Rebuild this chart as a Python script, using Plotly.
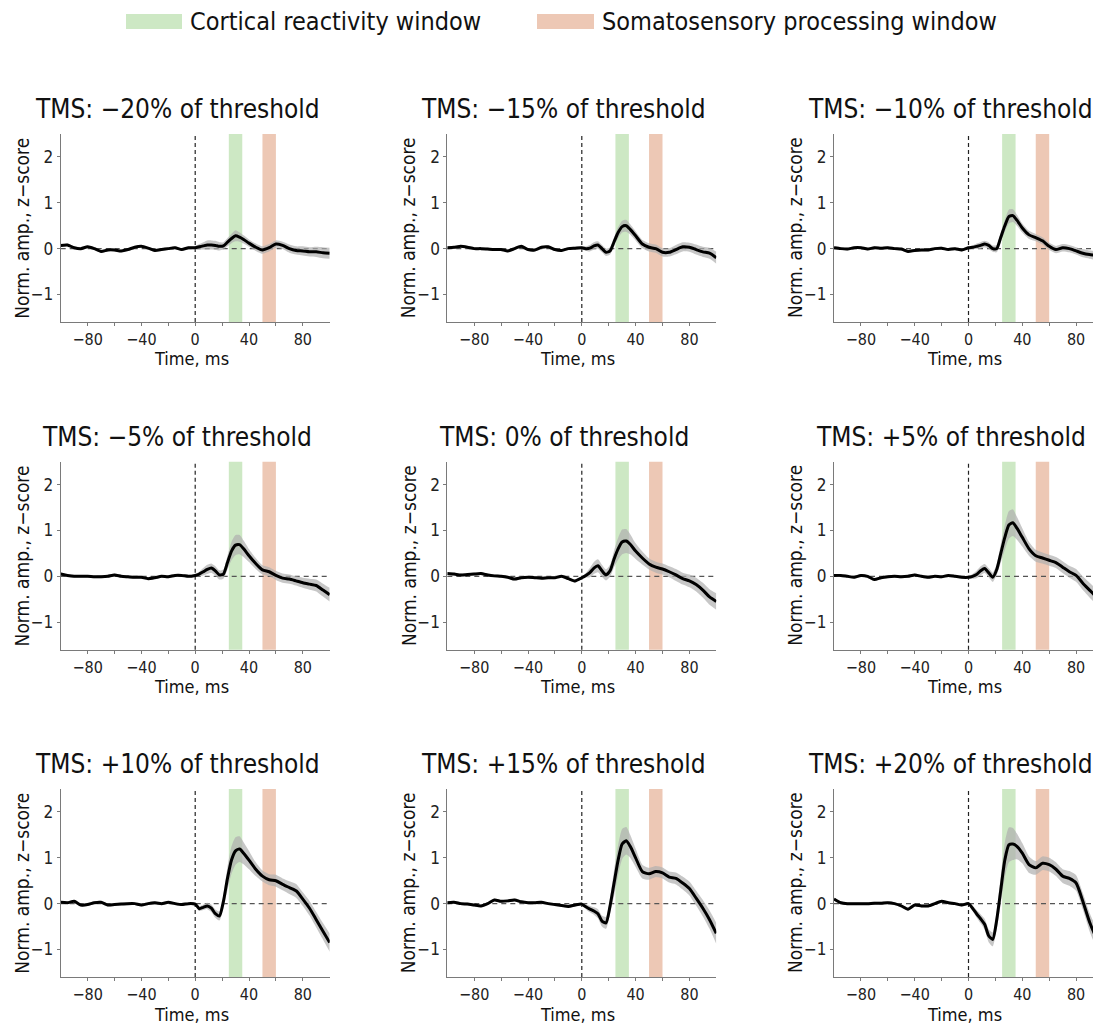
import plotly.graph_objects as go

# ---------------- data ----------------
TIME = [-100, -95, -90, -85, -80, -75, -70, -65, -60, -55, -50, -45, -40, -35, -30, -25, -20, -15, -10, -5,
        0, 3, 6, 9, 12, 15, 18, 21, 24, 27, 30, 33, 36, 40, 45, 50, 55, 60, 65, 70, 75, 80, 85, 90, 95, 100]

PANEL_TITLES = ["TMS: −20% of threshold", "TMS: −15% of threshold", "TMS: −10% of threshold",
                "TMS: −5% of threshold", "TMS: 0% of threshold", "TMS: +5% of threshold",
                "TMS: +10% of threshold", "TMS: +15% of threshold", "TMS: +20% of threshold"]

MEAN_M20 = [0.07, 0.08, 0.02, 0.0, 0.04, 0.0, -0.06, -0.03, -0.03, -0.05, -0.02, 0.03, 0.05, 0.01, -0.04, -0.02, 0.0, 0.02, -0.02, 0.02,
            0.02, 0.04, 0.06, 0.08, 0.08, 0.07, 0.05, 0.06, 0.14, 0.22, 0.28, 0.25, 0.2, 0.12, 0.03, -0.03, 0.02, 0.1, 0.07, 0.0, -0.04, -0.05, -0.07, -0.07, -0.09, -0.1]
MEAN_M15 = [0.02, 0.03, 0.05, 0.03, 0.0, 0.0, -0.01, -0.02, -0.02, -0.05, 0.0, 0.05, -0.02, -0.03, 0.03, 0.04, -0.02, -0.04, 0.0, 0.01,
            0.02, 0.0, 0.01, 0.06, 0.08, 0.0, -0.08, -0.05, 0.15, 0.35, 0.48, 0.5, 0.42, 0.28, 0.1, 0.03, 0.0, -0.08, -0.08, -0.02, 0.04, 0.03, -0.02, -0.07, -0.1, -0.2]
MEAN_M10 = [0.02, 0.0, -0.01, 0.02, 0.02, -0.01, 0.02, 0.01, 0.02, 0.0, -0.01, -0.06, -0.04, -0.03, -0.03, 0.0, 0.01, -0.02, 0.0, -0.03,
            0.02, 0.03, 0.05, 0.07, 0.1, 0.07, 0.0, 0.0, 0.25, 0.5, 0.7, 0.72, 0.62, 0.45, 0.3, 0.24, 0.17, 0.05, -0.02, 0.02, 0.0, -0.05, -0.1, -0.13, -0.15, -0.18]
MEAN_M05 = [0.05, 0.02, 0.0, 0.0, 0.0, -0.01, -0.01, 0.0, 0.03, 0.0, -0.01, -0.02, -0.02, -0.05, -0.03, 0.0, -0.01, 0.02, 0.02, 0.0,
            0.02, 0.05, 0.1, 0.15, 0.18, 0.12, 0.03, 0.05, 0.3, 0.55, 0.68, 0.69, 0.6, 0.45, 0.28, 0.14, 0.1, 0.02, -0.04, -0.06, -0.1, -0.14, -0.17, -0.2, -0.3, -0.4]
MEAN_P00 = [0.06, 0.05, 0.03, 0.04, 0.05, 0.06, 0.03, 0.01, 0.0, -0.02, -0.06, -0.03, -0.02, -0.03, -0.04, -0.03, -0.03, 0.0, -0.05, -0.1,
            -0.03, 0.02, 0.08, 0.18, 0.23, 0.12, 0.03, 0.12, 0.38, 0.6, 0.75, 0.77, 0.7, 0.55, 0.4, 0.27, 0.2, 0.16, 0.1, 0.03, -0.05, -0.1, -0.18, -0.3, -0.45, -0.55]
MEAN_P05 = [0.02, 0.02, 0.0, -0.02, 0.02, 0.0, -0.07, -0.03, -0.01, 0.0, -0.01, 0.0, 0.03, 0.0, -0.02, 0.0, -0.01, 0.02, 0.0, -0.02,
            -0.02, 0.0, 0.04, 0.12, 0.17, 0.08, -0.02, 0.15, 0.5, 0.85, 1.12, 1.17, 1.05, 0.85, 0.6, 0.45, 0.4, 0.35, 0.3, 0.2, 0.1, 0.02, -0.15, -0.3, -0.45, -0.65]
MEAN_P10 = [0.03, 0.02, 0.05, -0.03, -0.02, 0.02, 0.03, -0.03, -0.02, -0.01, 0.0, 0.0, -0.03, 0.0, 0.02, 0.0, 0.03, 0.0, -0.02, 0.0,
            -0.01, -0.11, -0.08, -0.05, -0.1, -0.22, -0.27, 0.05, 0.55, 0.95, 1.15, 1.19, 1.1, 0.95, 0.75, 0.6, 0.52, 0.5, 0.42, 0.35, 0.28, 0.1, -0.1, -0.35, -0.6, -0.85]
MEAN_P15 = [0.02, 0.03, 0.0, -0.01, -0.03, -0.05, 0.0, 0.08, 0.05, 0.06, 0.08, 0.04, 0.02, 0.02, 0.03, 0.0, -0.02, -0.04, -0.06, -0.03,
            -0.01, -0.07, -0.12, -0.16, -0.22, -0.38, -0.42, -0.05, 0.45, 0.95, 1.3, 1.37, 1.25, 1.0, 0.7, 0.65, 0.7, 0.67, 0.58, 0.55, 0.45, 0.33, 0.12, -0.1, -0.35, -0.65]
MEAN_P20 = [0.1, 0.02, 0.0, 0.0, 0.0, 0.0, 0.01, 0.01, 0.02, 0.0, -0.05, -0.12, -0.03, -0.05, -0.05, 0.0, 0.05, 0.02, 0.0, -0.03,
            0.0, -0.1, -0.22, -0.33, -0.45, -0.7, -0.78, -0.35, 0.3, 0.95, 1.28, 1.3, 1.25, 1.1, 0.85, 0.78, 0.88, 0.85, 0.75, 0.6, 0.55, 0.45, 0.05, -0.4, -0.75, -1.05]

SEM_M20 = [0.03, 0.03, 0.03, 0.03, 0.03, 0.03, 0.03, 0.03, 0.03, 0.03, 0.03, 0.03, 0.03, 0.03, 0.03, 0.03, 0.03, 0.03, 0.03, 0.03,
           0.04, 0.06, 0.08, 0.1, 0.1, 0.1, 0.09, 0.08, 0.09, 0.1, 0.12, 0.1, 0.09, 0.08, 0.08, 0.08, 0.08, 0.08, 0.08, 0.09, 0.09, 0.1, 0.1, 0.11, 0.12, 0.12]
SEM_M15 = [0.03, 0.03, 0.03, 0.03, 0.03, 0.03, 0.03, 0.03, 0.03, 0.03, 0.03, 0.03, 0.03, 0.03, 0.03, 0.03, 0.03, 0.03, 0.03, 0.03,
           0.04, 0.05, 0.07, 0.08, 0.08, 0.08, 0.08, 0.08, 0.1, 0.12, 0.13, 0.13, 0.11, 0.1, 0.09, 0.09, 0.09, 0.09, 0.09, 0.1, 0.1, 0.1, 0.11, 0.11, 0.12, 0.13]
SEM_M10 = [0.03, 0.03, 0.03, 0.03, 0.03, 0.03, 0.03, 0.03, 0.03, 0.03, 0.03, 0.03, 0.03, 0.03, 0.03, 0.03, 0.03, 0.03, 0.03, 0.03,
           0.03, 0.04, 0.06, 0.07, 0.07, 0.07, 0.07, 0.08, 0.1, 0.13, 0.15, 0.14, 0.12, 0.1, 0.09, 0.08, 0.08, 0.08, 0.08, 0.08, 0.08, 0.08, 0.09, 0.09, 0.1, 0.1]
SEM_M05 = [0.03, 0.03, 0.03, 0.03, 0.03, 0.03, 0.03, 0.03, 0.03, 0.03, 0.03, 0.03, 0.03, 0.03, 0.03, 0.03, 0.03, 0.03, 0.03, 0.03,
           0.03, 0.05, 0.08, 0.1, 0.1, 0.1, 0.1, 0.1, 0.15, 0.2, 0.22, 0.21, 0.18, 0.14, 0.12, 0.1, 0.1, 0.1, 0.1, 0.1, 0.1, 0.11, 0.12, 0.13, 0.14, 0.15]
SEM_P00 = [0.03, 0.03, 0.03, 0.03, 0.03, 0.03, 0.03, 0.03, 0.03, 0.03, 0.03, 0.03, 0.03, 0.03, 0.03, 0.03, 0.03, 0.03, 0.03, 0.03,
           0.03, 0.05, 0.1, 0.13, 0.14, 0.13, 0.12, 0.13, 0.18, 0.24, 0.27, 0.26, 0.22, 0.17, 0.14, 0.12, 0.12, 0.12, 0.12, 0.13, 0.13, 0.14, 0.15, 0.16, 0.17, 0.18]
SEM_P05 = [0.03, 0.03, 0.03, 0.03, 0.03, 0.03, 0.03, 0.03, 0.03, 0.03, 0.03, 0.03, 0.03, 0.03, 0.03, 0.03, 0.03, 0.03, 0.03, 0.03,
           0.03, 0.05, 0.08, 0.1, 0.1, 0.1, 0.1, 0.12, 0.2, 0.27, 0.3, 0.29, 0.25, 0.2, 0.15, 0.13, 0.12, 0.12, 0.12, 0.13, 0.13, 0.14, 0.15, 0.16, 0.17, 0.18]
SEM_P10 = [0.03, 0.03, 0.03, 0.03, 0.03, 0.03, 0.03, 0.03, 0.03, 0.03, 0.03, 0.03, 0.03, 0.03, 0.03, 0.03, 0.03, 0.03, 0.03, 0.03,
           0.03, 0.05, 0.06, 0.07, 0.08, 0.09, 0.1, 0.15, 0.25, 0.3, 0.3, 0.28, 0.24, 0.2, 0.15, 0.12, 0.12, 0.13, 0.13, 0.14, 0.15, 0.15, 0.16, 0.17, 0.18, 0.2]
SEM_P15 = [0.03, 0.03, 0.03, 0.03, 0.03, 0.03, 0.03, 0.03, 0.03, 0.03, 0.03, 0.03, 0.03, 0.03, 0.03, 0.03, 0.03, 0.03, 0.03, 0.03,
           0.03, 0.05, 0.07, 0.08, 0.1, 0.12, 0.13, 0.18, 0.28, 0.33, 0.33, 0.3, 0.25, 0.2, 0.15, 0.13, 0.12, 0.12, 0.12, 0.13, 0.14, 0.15, 0.16, 0.18, 0.2, 0.23]
SEM_P20 = [0.03, 0.03, 0.03, 0.03, 0.03, 0.03, 0.03, 0.03, 0.03, 0.03, 0.03, 0.03, 0.03, 0.03, 0.03, 0.03, 0.03, 0.03, 0.03, 0.03,
           0.03, 0.06, 0.08, 0.1, 0.12, 0.14, 0.15, 0.2, 0.3, 0.38, 0.38, 0.35, 0.28, 0.22, 0.18, 0.15, 0.15, 0.15, 0.15, 0.15, 0.16, 0.17, 0.18, 0.2, 0.22, 0.25]

MEANS = [MEAN_M20, MEAN_M15, MEAN_M10, MEAN_M05, MEAN_P00, MEAN_P05, MEAN_P10, MEAN_P15, MEAN_P20]
SEMS = [SEM_M20, SEM_M15, SEM_M10, SEM_M05, SEM_P00, SEM_P05, SEM_P10, SEM_P15, SEM_P20]

CR_WINDOW = [25, 35]      # cortical reactivity window, ms
SS_WINDOW = [50, 60]      # somatosensory processing window, ms
LEGEND_LABELS = ["Cortical reactivity window", "Somatosensory processing window"]

X_TICK_VALS = [-80, -60, -40, -20, 0, 20, 40, 60, 80]
X_TICK_TEXT = ["−80", "", "−40", "", "0", "", "40", "", "80"]
Y_TICK_VALS = [-1, 0, 1, 2]
Y_TICK_TEXT = ["−1", "0", "1", "2"]
Y_RANGE = [-1.6, 2.5]

# ---------------- styling / layout ----------------
W, H = 1101, 1023
PAGE_OFF = 8  # browser body margin
FONT = "Tahoma, 'DejaVu Sans Condensed', 'Liberation Sans', sans-serif"
GREEN = "#cde8c4"
ORANGE = "#edc8b5"
AXIS_COLOR = "#7a7a7a"

COL_LEFT = [60.7, 447.3, 834.0]
AX_W = 269.0
ROW_TOP = [134.0, 461.7, 789.0]
AX_H = 188.0


def px(x):
    return (x - PAGE_OFF) / W


def py(y):
    return 1 - (y - PAGE_OFF) / H


fig = go.Figure()
shapes = []
annotations = []
layout_axes = {}

for i in range(9):
    r, c = divmod(i, 3)
    n = i + 1
    xa = "x" if n == 1 else f"x{n}"
    ya = "y" if n == 1 else f"y{n}"
    left = COL_LEFT[c]
    right = left + AX_W
    top = ROW_TOP[r]
    bottom = top + AX_H

    mean = MEANS[i]
    sem = SEMS[i]
    upper = [m + s for m, s in zip(mean, sem)]
    lower = [m - s for m, s in zip(mean, sem)]

    fig.add_trace(go.Scatter(x=TIME, y=upper, mode="lines", line=dict(width=0, shape="spline", smoothing=0.6),
                             xaxis=xa, yaxis=ya, showlegend=False, hoverinfo="skip"))
    fig.add_trace(go.Scatter(x=TIME, y=lower, mode="lines", line=dict(width=0, shape="spline", smoothing=0.6),
                             fill="tonexty", fillcolor="rgba(175,175,175,0.7)",
                             xaxis=xa, yaxis=ya, showlegend=False, hoverinfo="skip"))
    fig.add_trace(go.Scatter(x=TIME, y=mean, mode="lines", line=dict(color="black", width=3, shape="spline", smoothing=0.6),
                             xaxis=xa, yaxis=ya, showlegend=False))

    xkey = "xaxis" if n == 1 else f"xaxis{n}"
    ykey = "yaxis" if n == 1 else f"yaxis{n}"
    layout_axes[xkey] = dict(domain=[px(left), px(right)], range=[-100, 100], anchor=ya,
                             showline=True, linecolor=AXIS_COLOR, linewidth=1, mirror=False,
                             ticks="outside", ticklen=3, tickcolor=AXIS_COLOR, tickwidth=1,
                             tickvals=X_TICK_VALS, ticktext=X_TICK_TEXT,
                             tickfont=dict(size=16, color="#222", family=FONT),
                             showgrid=False, zeroline=False, fixedrange=True)
    layout_axes[ykey] = dict(domain=[py(bottom), py(top)], range=Y_RANGE, anchor=xa,
                             showline=True, linecolor=AXIS_COLOR, linewidth=1, mirror=False,
                             ticks="outside", ticklen=3, tickcolor=AXIS_COLOR, tickwidth=1,
                             tickvals=Y_TICK_VALS, ticktext=Y_TICK_TEXT,
                             tickfont=dict(size=17, color="#222", family=FONT),
                             showgrid=False, zeroline=False, fixedrange=True)

    xref = xa
    yref_dom = f"{ya} domain"
    xref_dom = f"{xa} domain"
    # windows
    shapes.append(dict(type="rect", xref=xref, yref=yref_dom, x0=CR_WINDOW[0], x1=CR_WINDOW[1], y0=0, y1=1,
                       fillcolor=GREEN, line=dict(width=0), layer="below"))
    shapes.append(dict(type="rect", xref=xref, yref=yref_dom, x0=SS_WINDOW[0], x1=SS_WINDOW[1], y0=0, y1=1,
                       fillcolor=ORANGE, line=dict(width=0), layer="below"))
    # zero reference lines
    shapes.append(dict(type="line", xref=xref_dom, yref=ya, x0=0, x1=1, y0=0, y1=0,
                       line=dict(color="#555555", width=1.2, dash="5px,4px"), layer="below"))
    shapes.append(dict(type="line", xref=xref, yref=yref_dom, x0=0, x1=0, y0=0, y1=1,
                       line=dict(color="#222222", width=1.2, dash="4px,3px"), layer="below"))

    # titles
    annotations.append(dict(text=PANEL_TITLES[i], x=px(left + AX_W / 2 - 18), y=py(top - 25),
                            xref="paper", yref="paper", xanchor="center", yanchor="middle",
                            showarrow=False, font=dict(size=26, color="#111", family=FONT)))
    annotations.append(dict(text="Time, ms", x=px(left + AX_W / 2 - 4), y=py(bottom + 37),
                            xref="paper", yref="paper", xanchor="center", yanchor="middle",
                            showarrow=False, font=dict(size=18, color="#111", family=FONT)))
    annotations.append(dict(text="Norm. amp., z−score", x=px(left - 39), y=py(top + AX_H / 2),
                            xref="paper", yref="paper", xanchor="center", yanchor="middle", textangle=-90,
                            showarrow=False, font=dict(size=19, color="#111", family=FONT)))

# legend drawn as swatches + labels
shapes.append(dict(type="rect", xref="paper", yref="paper", x0=px(126), x1=px(182), y0=py(29), y1=py(14),
                   fillcolor=GREEN, line=dict(width=0)))
annotations.append(dict(text=LEGEND_LABELS[0], x=px(188), y=py(22), xref="paper", yref="paper",
                        xanchor="left", yanchor="middle", showarrow=False,
                        font=dict(size=25, color="#111", family=FONT)))
shapes.append(dict(type="rect", xref="paper", yref="paper", x0=px(537), x1=px(594), y0=py(29), y1=py(14),
                   fillcolor=ORANGE, line=dict(width=0)))
annotations.append(dict(text=LEGEND_LABELS[1], x=px(600), y=py(22), xref="paper", yref="paper",
                        xanchor="left", yanchor="middle", showarrow=False,
                        font=dict(size=25, color="#111", family=FONT)))

fig.update_layout(width=W, height=H, margin=dict(l=0, r=0, t=0, b=0),
                  paper_bgcolor="white", plot_bgcolor="white", showlegend=False,
                  font=dict(family=FONT, color="#111"),
                  shapes=shapes, annotations=annotations, **layout_axes)

fig.write_html("out.html")
